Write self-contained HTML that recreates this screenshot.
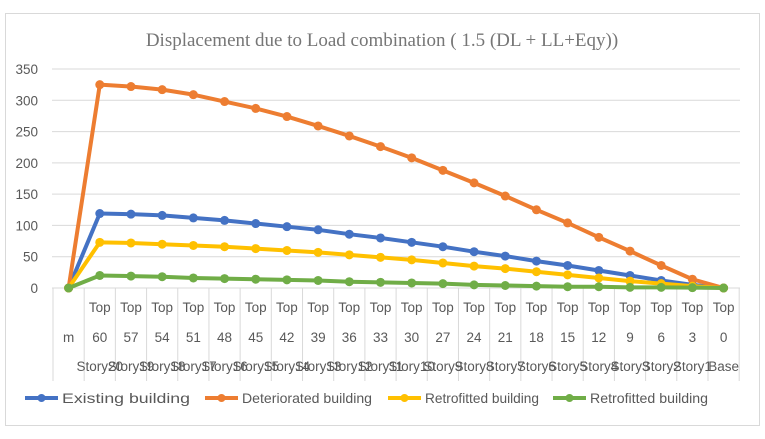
<!DOCTYPE html>
<html><head><meta charset="utf-8"><style>
body{margin:0;background:#fff;}
svg text{font-family:"Liberation Sans",sans-serif;}
</style></head><body>
<svg id="c" width="765" height="434" xmlns="http://www.w3.org/2000/svg">
<rect x="5.5" y="13.5" width="754" height="412" fill="#fff" stroke="#d9d9d9"/>
<text x="382" y="46" text-anchor="middle" font-size="19" fill="#767676" style="font-family:'Liberation Serif',serif">Displacement due to Load combination ( 1.5 (DL + LL+Eqy))</text>
<g id="grid"></g><g id="table"></g><g id="series"></g><g id="legend"></g>
</svg>
<script>
const tops = ["","Top","Top","Top","Top","Top","Top","Top","Top","Top","Top","Top","Top","Top","Top","Top","Top","Top","Top","Top","Top","Top"];
const heights = ["m","60","57","54","51","48","45","42","39","36","33","30","27","24","21","18","15","12","9","6","3","0"];
const stories = ["","Story20","Story19","Story18","Story17","Story16","Story15","Story14","Story13","Story12","Story11","Story10","Story9","Story8","Story7","Story6","Story5","Story4","Story3","Story2","Story1","Base"];
const existing = [0,119,118,116,112,108,103,98,93,86,80,73,66,58,51,43,36,28,20,12,5,0];
const deteriorated = [0,325,322,317,309,298,287,274,259,243,226,208,188,168,147,125,104,81,59,36,14,0];
const retrofitted1 = [0,73,72,70,68,66,63,60,57,53,49,45,40,35,31,26,21,16,11,7,3,0];
const retrofitted2 = [0,20,19,18,16,15,14,13,12,10,9,8,7,5,4,3,2,2,1,1,0.5,0];
const yTicks = [0,50,100,150,200,250,300,350];
const seriesNames = ["Existing building","Deteriorated building","Retrofitted building","Retrofitted building"];
const colors = ["#4472c4","#ed7d31","#ffc000","#70ad47"];

const NS="http://www.w3.org/2000/svg";
const x0=53, colW=31.19, y0=288, k=219/350;
const xs=i=>x0+colW*(i+0.5);
const ys=v=>y0-v*k;
function mk(t,a,p){const e=document.createElementNS(NS,t);for(const n in a)e.setAttribute(n,a[n]);p.appendChild(e);return e;}
const grid=document.getElementById('grid');
yTicks.forEach(v=>{
  const l=mk('line',{x1:52,x2:740,y1:ys(v),y2:ys(v),stroke:'#d9d9d9'},grid);
  
  
  const t=mk('text',{x:38,y:ys(v)+5,'text-anchor':'end','font-size':13.5,fill:'#595959'},grid);
  t.textContent=v;
  
  
});
const tb=document.getElementById('table');
for(let i=0;i<=heights.length;i++){
  const l=mk('line',{x1:x0+colW*i,x2:x0+colW*i,y1:288,y2:381,stroke:'#d9d9d9'},tb);
  
  
}
heights.forEach((h,i)=>{
  const rows=[[tops[i],312],[h,342],[stories[i],371]];
  rows.forEach((r,j)=>{
    if(!r[0])return;
    const t=mk('text',{x:xs(i),y:r[1],'text-anchor':'middle','font-size':13.5,fill:'#595959'},tb);
    t.textContent=r[0];
    
    
  });
});
const sg=document.getElementById('series');
[existing,deteriorated,retrofitted1,retrofitted2].forEach((d,s)=>{
  const g=mk('g',{},sg);
  
  
  const p=mk('polyline',{points:d.map((v,i)=>xs(i)+','+ys(v)).join(' '),fill:'none',stroke:colors[s],'stroke-width':4,'stroke-linejoin':'round'},g);
  
  
  d.forEach((v,i)=>{
    const c=mk('circle',{cx:xs(i),cy:ys(v),r:4.5,fill:colors[s]},g);
    
    
  });
});
const lg=document.getElementById('legend');
const lx=[25,205,388,553];
const lw=[128,130,114,118];
seriesNames.forEach((n,s)=>{
  const g=mk('g',{},lg);
  
  
  mk('line',{x1:lx[s],x2:lx[s]+33,y1:398,y2:398,stroke:colors[s],'stroke-width':4},g);
  mk('circle',{cx:lx[s]+16.5,cy:398,r:4,fill:colors[s]},g);
  const t=mk('text',{x:lx[s]+37,y:403,'font-size':14,fill:'#595959',textLength:lw[s],lengthAdjust:'spacingAndGlyphs'},g);
  t.textContent=n;
});
</script>
</body></html>
